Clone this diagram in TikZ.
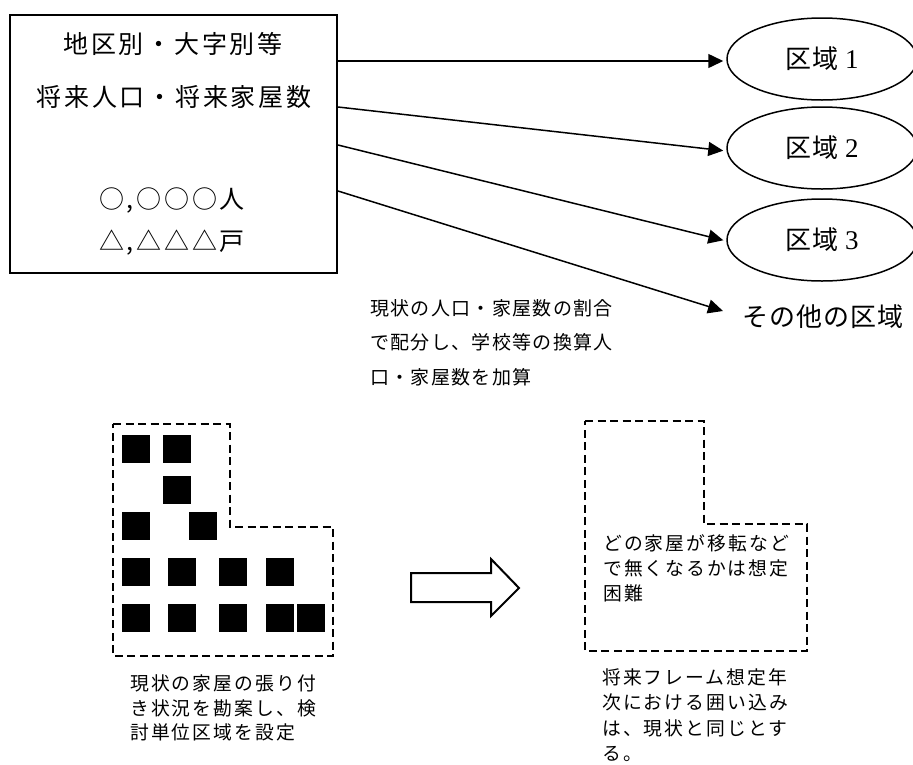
\documentclass[tikz,border=0pt]{standalone}
\usepackage{fontspec}
\setmainfont{Liberation Serif}
\newfontfamily\jpbox[LetterSpace=11]{Noto Sans CJK JP}
\newfontfamily\jpel[LetterSpace=4]{Noto Sans CJK JP}
\newfontfamily\jpmid[LetterSpace=7]{Noto Sans CJK JP}
\newfontfamily\jpsm[LetterSpace=11]{Noto Sans CJK JP}
\usetikzlibrary{shapes.geometric,arrows.meta,calc}
\tikzset{
  arr/.style={line width=1.5pt,-{Triangle[length=15pt,width=14pt]}},
  zone/.style={draw,ellipse,line width=1.5pt,minimum width=190pt,minimum height=82pt,inner sep=0pt},
  dashline/.style={line width=2pt,dash pattern=on 8pt off 4.5pt},
  house/.style={fill=black},
  boxtxt/.style={inner sep=0pt,font=\jpbox\fontsize{25}{30}\selectfont},
  midtxt/.style={inner sep=0pt,anchor=west,align=left},
}
\newcommand{\zonelabel}[1]{{\jpel\fontsize{26}{30}\selectfont 区域}{\fontsize{27}{30}\selectfont\ #1}}
\begin{document}
\begin{tikzpicture}[x=1pt,y=-1pt]
\useasboundingbox (0,0) rectangle (913,764);
% main box
\node[draw,line width=2pt,minimum width=327pt,minimum height=258pt,inner sep=0pt] (box) at (173.5,144) {};
\node[boxtxt] (t1) at (173,44) {地区別・大字別等};
\node[boxtxt] (t2) at (174,97) {将来人口・将来家屋数};
\node[boxtxt] (t3) at (172,200) {○,○○○人};
\node[boxtxt] (t4) at (172,243) {△,△△△戸};
% zones
\node[zone] (e1) at (822,59) {\zonelabel{1}};
\node[zone] (e2) at (822,148) {\zonelabel{2}};
\node[zone] (e3) at (822,240) {\zonelabel{3}};
\node[inner sep=0pt,anchor=west,font=\jpel\fontsize{26}{30}\selectfont] (other) at (742,317) {その他の区域};
% start points on the box
\coordinate (s1) at (box.east |- 0,61);
\coordinate (s2) at (box.east |- 0,107);
\coordinate (s3) at (box.east |- 0,145);
\coordinate (s4) at (box.east |- 0,191);
\draw[arr,shorten >=3pt] (s1) -- (e1.west |- s1);
\draw[arr,shorten >=3pt] (s2) -- ($(e2.west)+(0,3)$);
\draw[arr,shorten >=3pt] (s3) -- ($(e3.west)+(0,1)$);
\draw[arr] (s4) -- ($(other.west)+(-19,-6)$);
% middle note
\node[midtxt,font=\jpmid\fontsize{19}{34.5}\selectfont] (note) at (370,342.5)
  {現状の人口・家屋数の割合\\で配分し、学校等の換算人\\口・家屋数を加算};
% left dashed region
\draw[dashline] (113,424) -- (230,424) -- (230,527) -- (333,527) -- (333,656) -- (113,656) -- cycle;
\foreach \x/\y in {122/435,163/435,163/476,122/512,189/512,
                   122/558,168/558,219/558,266/558,
                   122/604,168/604,219/604,266/604,297/604}
  \fill[house] (\x,\y) rectangle ++(27.7,27.7);
\node[midtxt,font=\jpsm\fontsize{18.8}{24.5}\selectfont] (lnote) at (130,708)
  {現状の家屋の張り付\\き状況を勘案し、検\\討単位区域を設定};
% hollow arrow
\draw[line width=2pt,line join=miter] (411,573) -- (491,573) -- (491,559) -- (519,588) -- (491,616) -- (491,602) -- (411,602) -- cycle;
% right dashed region
\draw[dashline] (585,421) -- (704,421) -- (704,524) -- (807,524) -- (807,651) -- (585,651) -- cycle;
\node[midtxt,font=\jpsm\fontsize{18.8}{25}\selectfont] (rin) at (603,568)
  {どの家屋が移転など\\で無くなるかは想定\\困難};
\node[midtxt,font=\jpsm\fontsize{18.8}{25.3}\selectfont] (rnote) at (602,715)
  {将来フレーム想定年\\次における囲い込み\\は、現状と同じとす\\る。};
\end{tikzpicture}
\end{document}
